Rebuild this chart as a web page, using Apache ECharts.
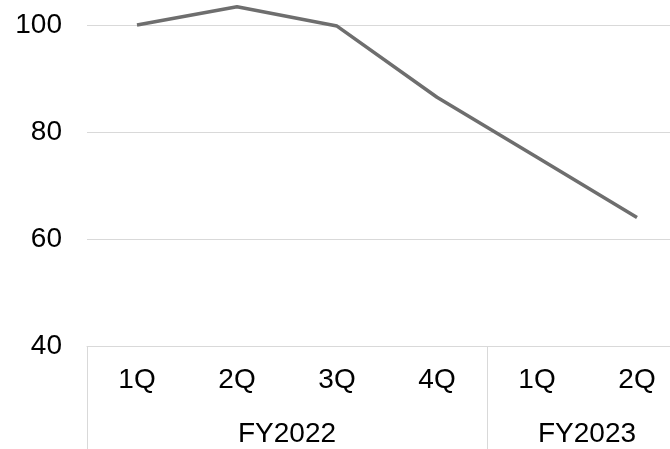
<!DOCTYPE html>
<html>
<head>
<meta charset="utf-8">
<script src="https://cdn.jsdelivr.net/npm/echarts@6/dist/echarts.min.js"></script>
<style>html,body{margin:0;padding:0;background:#fff;}#c{width:670px;height:449px;}</style>
</head>
<body>
<div id="c"></div>
<script>
var quarters = ['1Q', '2Q', '3Q', '4Q', '1Q', '2Q'];
var fiscalSlots = ['', '', 'FY2022', '', '', 'FY2023', ''];
var fiscalBoundaries = [0, 4, 6];
var fiscalLabelIdx = [2, 5];
var values = [100, 103.4, 99.8, 86.5, 75.3, 64.0];
var yTicks = [40, 60, 80, 100];

var font = 'Liberation Sans, Arial, sans-serif';
var chart = echarts.init(document.getElementById('c'));
chart.setOption({
  animation: false,
  grid: { left: 87, width: 600, top: 25, bottom: 103, containLabel: false, outerBoundsMode: 'none' },
  xAxis: [
    {
      type: 'category', data: quarters, boundaryGap: true, position: 'bottom',
      axisLine: { show: true, lineStyle: { color: '#d9d9d9', width: 1 } },
      axisTick: { show: false },
      axisLabel: { color: '#000', fontSize: 28, fontFamily: font, margin: 20, lineHeight: 28 }
    },
    {
      type: 'category', data: fiscalSlots, boundaryGap: false, position: 'bottom',
      axisLine: { show: false },
      axisTick: { show: true, length: 110, lineStyle: { color: '#d9d9d9', width: 1 },
        interval: function (i) { return fiscalBoundaries.indexOf(i) >= 0; } },
      axisLabel: { color: '#000', fontSize: 28, fontFamily: font, margin: 74, lineHeight: 28,
        interval: function (i) { return fiscalLabelIdx.indexOf(i) >= 0; } }
    }
  ],
  yAxis: {
    type: 'value', min: yTicks[0], max: yTicks[yTicks.length - 1], interval: 20,
    axisLine: { show: false }, axisTick: { show: false },
    splitLine: { lineStyle: { color: '#d9d9d9', width: 1 } },
    axisLabel: { color: '#000', fontSize: 28, fontFamily: font, margin: 25 }
  },
  series: [{
    type: 'line', data: values, xAxisIndex: 0, clip: false,
    symbol: 'none', lineStyle: { color: '#6e6e6e', width: 3.5 }
  }]
});
</script>
</body>
</html>
